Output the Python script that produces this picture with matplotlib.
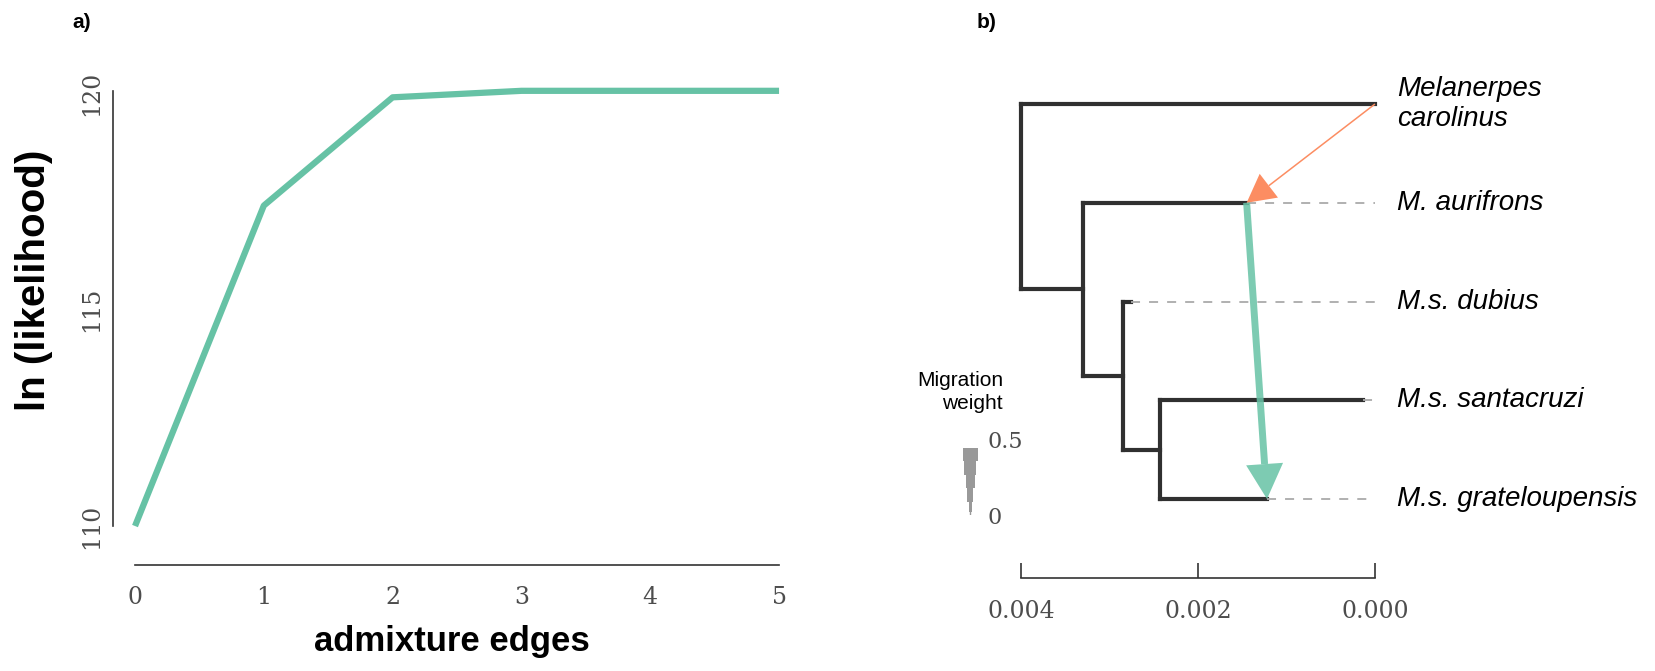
import matplotlib
matplotlib.use("Agg")
import matplotlib.pyplot as plt
import numpy as np

# panel a: likelihood by number of admixture edges
edges = [0, 1, 2, 3, 4, 5]
lnlik = [110.0, 117.4, 119.9, 120.05, 120.05, 120.05]

# panel b: tree (x = drift position on the 0.004 -> 0.000 axis, tips top to bottom)
tip_names = ["Melanerpes\ncarolinus", "M. aurifrons", "M.s. dubius",
             "M.s. santacruzi", "M.s. grateloupensis"]
tip_x = [0.0, 0.00145, 0.00276, 0.00014, 0.00122]
# internal nodes: name -> (x, children)
nodes = {
    "C": (0.00243, ["M.s. santacruzi", "M.s. grateloupensis"]),
    "B": (0.00285, ["M.s. dubius", "C"]),
    "A": (0.00330, ["M. aurifrons", "B"]),
    "root": (0.00400, ["Melanerpes\ncarolinus", "A"]),
}
# migration edges: (source tip, destination tip, x on destination branch, weight)
migrations = [
    ("Melanerpes\ncarolinus", "M. aurifrons", 0.00145, 0.10),
    ("M. aurifrons", "M.s. grateloupensis", 0.00122, 0.45),
]
mig_colors = ["#fc8d62", "#66c2a5"]
weight_steps = [0.5, 0.4, 0.3, 0.2, 0.1, 0.02]

W, H = 1655, 671
fig = plt.figure(figsize=(W / 100, H / 100), dpi=100)


def px_axes(left, top, right, bottom):
    return fig.add_axes([left / W, 1 - bottom / H, (right - left) / W, (bottom - top) / H])


serif = "DejaVu Serif"
sans = "Liberation Sans"
tick_col = "#4d4d4d"
green = "#66c2a5"

# ---- panel a ----
ax = px_axes(113, 80, 790, 565)
ax.plot(edges, lnlik, color=green, lw=4.5, solid_capstyle="butt")
ax.set_xlim(-0.171, 5.085)
ax.set_ylim(109.1, 120.3)
for s in ["top", "right"]:
    ax.spines[s].set_visible(False)
ax.spines["left"].set_bounds(110, max(lnlik))
ax.spines["bottom"].set_bounds(0, 5)
for s in ["left", "bottom"]:
    ax.spines[s].set_color("#333333")
    ax.spines[s].set_linewidth(1.2)
ax.set_xticks(edges)
ax.set_yticks([110, 115, 120])
ax.tick_params(length=0, labelsize=17, colors=tick_col)
ax.tick_params(axis="x", pad=15)
ax.tick_params(axis="y", pad=7)
for lab in ax.get_xticklabels() + ax.get_yticklabels():
    lab.set_family(serif)
for lab in ax.get_yticklabels():
    lab.set_rotation(90)
    lab.set_va("center")
ax.set_xlabel("admixture edges", fontsize=25, fontweight="bold", family=sans, labelpad=12)
fig.text(34 / W, 1 - 280 / H, "ln (likelihood)", fontsize=29, fontweight="bold",
         family=sans, rotation=90, ha="center", va="center")
fig.text(82 / W, 1 - 22 / H, "a)", fontsize=15, fontweight="bold", family=sans,
         ha="center", va="center")

# ---- panel b ----
bx = px_axes(990, 60, 1390, 578)
bx.set_xlim(0.00435, -0.00017)
bx.set_ylim(0.2, 5.446)

ypos = {name: len(tip_names) - i for i, name in enumerate(tip_names)}
xpos = dict(zip(tip_names, tip_x))
tree_col = "#303030"
for name in ["C", "B", "A", "root"]:
    nx, kids = nodes[name]
    ky = [ypos[k] for k in kids]
    ypos[name] = sum(ky) / 2
    xpos[name] = nx
    bx.plot([nx, nx], [min(ky), max(ky)], color=tree_col, lw=3, solid_capstyle="projecting")
    for k in kids:
        bx.plot([nx, xpos[k]], [ypos[k], ypos[k]], color=tree_col, lw=3,
                solid_capstyle="projecting")

for name, x in zip(tip_names, tip_x):
    if x > 0:
        bx.plot([x, 0.0], [ypos[name], ypos[name]], color="#aaaaaa", lw=1.3,
                dashes=(5, 5))
    bx.text(-0.00025, ypos[name], name, fontsize=20, style="italic", family=sans,
            ha="left", va="center", linespacing=1.2)

# migration arrows: shaft drawn as a line, head as a filled triangle
to_px = bx.transData
for (src, dst, dx, w), col in zip(migrations, mig_colors):
    thick = w > 0.3
    head_len = 35 if thick else 28          # pixels
    head_hw = 18.5 if thick else 15
    shaft_lw = 5 if thick else 1.1
    alpha = 0.85 if thick else 1.0
    p0 = to_px.transform((xpos[src], ypos[src]))
    p1 = to_px.transform((dx, ypos[dst]))
    u = (p1 - p0) / np.hypot(*(p1 - p0))
    base = p1 - u * head_len
    b_data = to_px.inverted().transform(base)
    bx.plot([xpos[src], b_data[0]], [ypos[src], b_data[1]], color=col, lw=shaft_lw,
            alpha=alpha, solid_capstyle="butt", zorder=5)
    nrm = np.array([-u[1], u[0]])
    tri = to_px.inverted().transform(np.array([p1, base + nrm * head_hw, base - nrm * head_hw]))
    bx.fill(tri[:, 0], tri[:, 1], color=col, alpha=alpha, lw=0, zorder=5)

for s in ["top", "right", "left"]:
    bx.spines[s].set_visible(False)
bx.spines["bottom"].set_bounds(0.004, 0.0)
bx.spines["bottom"].set_color("#333333")
bx.spines["bottom"].set_linewidth(1.2)
bx.set_yticks([])
bx.set_xticks([0.004, 0.002, 0.0])
bx.set_xticklabels(["0.004", "0.002", "0.000"], family=serif)
bx.tick_params(axis="x", direction="in", length=11, width=1.2, color="#333333",
               labelsize=17, labelcolor=tick_col, pad=16)
fig.text(987 / W, 1 - 22 / H, "b)", fontsize=15, fontweight="bold", family=sans,
         ha="center", va="center")

# migration weight legend
fig.text(1003 / W, 1 - 392 / H, "Migration\nweight", fontsize=15, family=sans,
         ha="right", va="center", multialignment="right", linespacing=1.3)
lg = px_axes(955, 448, 985, 515)
lg.axis("off")
lg.set_xlim(-1, 1)
lg.set_ylim(0, 0.5)
for top, bot in zip(weight_steps[:-1], weight_steps[1:]):
    hw = top * 1.0
    lg.fill_between([-hw, hw], bot, top, color="#999999", lw=0)
lg.plot([0, 0], [0, 0.02], color="#999999", lw=1)
fig.text(987 / W, 1 - 442 / H, "0.5", fontsize=16, family=serif, color=tick_col,
         ha="left", va="center")
fig.text(987 / W, 1 - 518 / H, "0", fontsize=16, family=serif, color=tick_col,
         ha="left", va="center")

fig.savefig("out.png", dpi=100)
